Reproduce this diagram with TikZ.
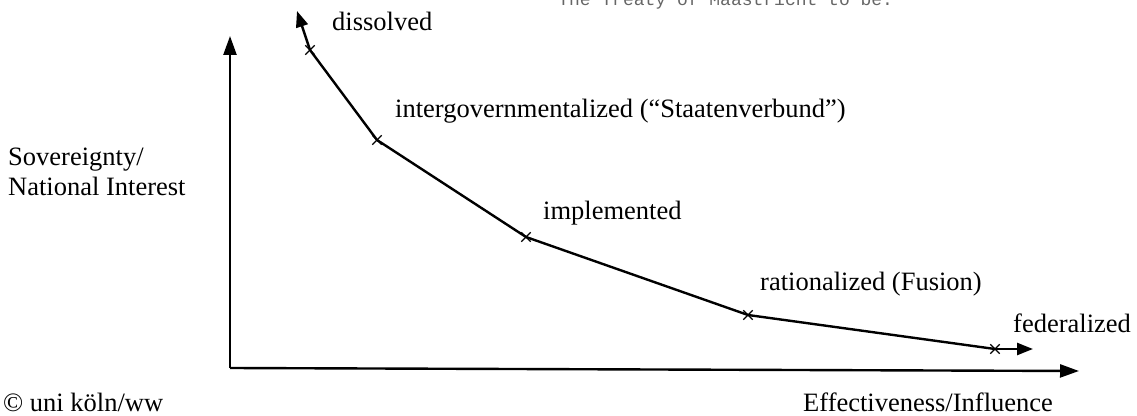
\documentclass[tikz,border=0pt]{standalone}
\usepackage{fontspec}
\setmainfont{Liberation Serif}
\newfontfamily\monof{Liberation Mono}
\usetikzlibrary{arrows.meta,shapes.misc}
\begin{document}
\begin{tikzpicture}[x=1pt,y=1pt,
  lbl/.style={anchor=west,inner sep=0pt,font=\fontsize{26.5}{30}\selectfont},
  axisline/.style={line width=2.4pt,-{Triangle[length=19pt,width=13pt]}},
  curve/.style={line width=2.4pt},
  tick/.style={cross out,draw,line width=1.3pt,minimum size=8pt,inner sep=0pt},
  pt/.style={inner sep=0pt,minimum size=0pt}]
\useasboundingbox (0,0) rectangle (1137,415);
\clip (0,0) rectangle (1137,415);
% axes
\coordinate (O) at (230,47);
\coordinate (Ytip) at (230,379);
\coordinate (Xtip) at (1079,44);
\draw[axisline] (O) -- (Ytip);
\draw[axisline] (O) -- (Xtip);
% curve points
\node[tick] (d) at (310,365) {};
\node[tick] (i) at (377,275) {};
\node[tick] (m) at (526,178) {};
\node[tick] (r) at (748,100) {};
\node[tick] (f) at (995,66) {};
\coordinate (dtip) at (297,404);
\coordinate (ftip) at (1033,66);
\draw[curve] (d.center) -- (i.center) -- (m.center) -- (r.center) -- (f.center);
\draw[curve,-{Triangle[length=16pt,width=12pt]}] (d.center) -- (dtip);
\draw[curve,-{Triangle[length=16pt,width=12pt]}] (f.center) -- (ftip);
% labels
\node[lbl] (ld) at (332,394) {dissolved};
\node[lbl] (li) at (395,304) {intergovernmentalized (“Staatenverbund”)};
\node[lbl] (lm) at (543,202) {implemented};
\node[lbl] (lr) at (760,131) {rationalized (Fusion)};
\node[lbl] (lf) at (1013,92) {federalized};
\node[lbl,align=left] (ly) at (8,243) {Sovereignty/\\National Interest};
\node[lbl] (lc) at (3,13) {© uni köln/ww};
\node[lbl] (lx) at (803,13) {Effectiveness/Influence};
\node[anchor=base west,inner sep=0pt,text=black!60,font=\monof\fontsize{18}{22}\selectfont] (lt) at (558,409) {The Treaty of Maastricht to be:};
\end{tikzpicture}
\end{document}
